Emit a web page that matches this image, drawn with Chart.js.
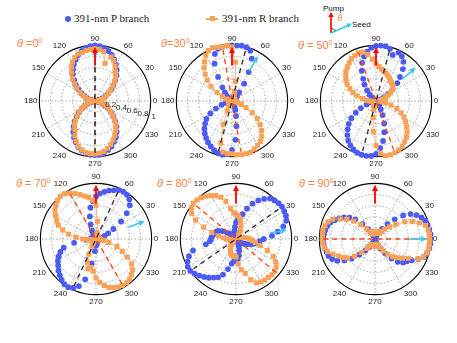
<!DOCTYPE html>
<html>
<head>
<meta charset="utf-8">
<script src="https://cdn.jsdelivr.net/npm/chart.js@4.4.1/dist/chart.umd.min.js"></script>
<style>
  html, body { margin: 0; padding: 0; background: #fff; }
  body { width: 457px; height: 343px; position: relative; overflow: hidden; font-family: "Liberation Sans", Arial, sans-serif; }
  .panel { position: absolute; width: 142px; height: 142px; }
  .title { position: absolute; color: #f5834a; font-size: 11px; line-height: 11px; white-space: nowrap; }
  .title sup { font-size: 7px; vertical-align: 4px; line-height: 0; }
  .lg { position: absolute; top: 13px; font-family: "Liberation Serif", "Times New Roman", serif; font-size: 11px; line-height: 11px; color: #222; white-space: nowrap; }
  .dot { position: absolute; width: 6px; height: 6px; border-radius: 50%; background: #4b5bf5; }
  .sq { position: absolute; width: 5px; height: 5px; background: #f9a257; }
  .ln { position: absolute; height: 1.5px; background: #f9a257; }
</style>
</head>
<body>

<!-- legend -->
<div class="dot" style="left:65px; top:16px;"></div>
<div class="lg" style="left:74px;">391-nm P branch</div>
<div class="ln" style="left:206px; top:18px; width:12px;"></div>
<div class="sq" style="left:209.5px; top:16px;"></div>
<div class="lg" style="left:222px;">391-nm R branch</div>

<!-- pump / seed inset -->
<svg style="position:absolute; left:300px; top:0;" width="90" height="40" viewBox="0 0 90 40">
  <text x="23" y="11" font-size="8" font-family="Liberation Sans, Arial, sans-serif" fill="#111">Pump</text>
  <line x1="31" y1="33" x2="31" y2="16" stroke="#ff0000" stroke-width="1.6"/>
  <polygon points="31,12 28.3,17 33.7,17" fill="#ff0000"/>
  <text x="37.5" y="21" font-size="10" font-style="italic" font-family="Liberation Serif, serif" fill="#f5834a">θ</text>
  <line x1="31" y1="33" x2="48" y2="25.5" stroke="#3cc8f0" stroke-width="1.6"/>
  <polygon points="52,23.8 46.2,23.2 48.3,28" fill="#3cc8f0"/>
  <path d="M31 28.5 A4.5 4.5 0 0 1 35.3 31" fill="none" stroke="#111" stroke-width="0.8"/>
  <text x="52" y="27" font-size="8" font-family="Liberation Sans, Arial, sans-serif" fill="#111">Seed</text>
</svg>

<!-- panel titles -->
<div class="title" style="left:17px; top:38px;"><i>θ</i> =0<sup>0</sup></div>
<div class="title" style="left:161px; top:38px;"><i>θ</i>=30<sup>0</sup></div>
<div class="title" style="left:298px; top:40px;"><i>θ</i> = 50<sup>0</sup></div>
<div class="title" style="left:16px; top:178px;"><i>θ</i> = 70<sup>0</sup></div>
<div class="title" style="left:157px; top:178px;"><i>θ</i> = 80<sup>0</sup></div>
<div class="title" style="left:299px; top:178px;"><i>θ</i> = 90<sup>0</sup></div>

<div class="panel" style="left:20px; top:30px;"><canvas id="c0"></canvas></div>
<div class="panel" style="left:157px; top:30px;"><canvas id="c1"></canvas></div>
<div class="panel" style="left:301px; top:30px;"><canvas id="c2"></canvas></div>
<div class="panel" style="left:21px; top:168px;"><canvas id="c3"></canvas></div>
<div class="panel" style="left:161px; top:168px;"><canvas id="c4"></canvas></div>
<div class="panel" style="left:300px; top:168px;"><canvas id="c5"></canvas></div>

<script>
// polar angle of each sample, degrees (counter-clockwise from the right)
const angles = [
  0, 5, 10, 15, 20, 25, 30, 35, 40, 45, 50, 55,
  60, 65, 70, 75, 80, 85, 90, 95, 100, 105, 110, 115,
  120, 125, 130, 135, 140, 145, 150, 155, 160, 165, 170, 175,
  180, 185, 190, 195, 200, 205, 210, 215, 220, 225, 230, 235,
  240, 245, 250, 255, 260, 265, 270, 275, 280, 285, 290, 295,
  300, 305, 310, 315, 320, 325, 330, 335, 340, 345, 350, 355
];
const angleTicks = [0, 30, 60, 90, 120, 150, 180, 210, 240, 270, 300, 330];
const radialTicks = [0.2, 0.4, 0.6, 0.8, 1];

// seed angle theta for each panel
const thetas = [0, 30, 50, 70, 80, 90];
const seedDirs = [90, 60, 40, 20, 10, 0];     // seed arrow direction
const rAxisDirs = [90, 100, 110, 120, 140, 180]; // red dashed line
const pAxisDirs = [90, 75, 75, 65, 35, null];    // black dashed line

// normalised intensity, 391-nm P branch (blue circles)
const pTheta0 = [
  0.02, 0.03, 0.05, 0.09, 0.14, 0.20, 0.27, 0.35, 0.43, 0.51, 0.60, 0.68,
  0.75, 0.82, 0.88, 0.93, 0.97, 0.99, 1.00, 0.99, 0.97, 0.93, 0.88, 0.82,
  0.76, 0.69, 0.62, 0.53, 0.45, 0.36, 0.28, 0.21, 0.15, 0.09, 0.05, 0.03,
  0.02, 0.03, 0.05, 0.09, 0.14, 0.20, 0.27, 0.35, 0.43, 0.52, 0.60, 0.68,
  0.75, 0.82, 0.88, 0.92, 0.95, 0.97, 0.97, 0.97, 0.94, 0.91, 0.87, 0.81,
  0.75, 0.68, 0.60, 0.51, 0.43, 0.35, 0.27, 0.20, 0.14, 0.09, 0.05, 0.03
];
const pTheta30 = [
  0.04, 0.03, 0.04, 0.05, 0.05, 0.06, 0.07, 0.08, 0.10, 0.13, 0.20, 0.38,
  0.60, 0.84, 0.96, 1.00, 1.01, 1.00, 1.00, 1.00, 0.99, 0.97, 0.90, 0.74,
  0.50, 0.30, 0.20, 0.14, 0.10, 0.08, 0.06, 0.05, 0.05, 0.04, 0.04, 0.05,
  0.05, 0.06, 0.08, 0.12, 0.20, 0.32, 0.45, 0.56, 0.63, 0.70, 0.76, 0.81,
  0.86, 0.90, 0.94, 0.97, 0.98, 0.96, 0.88, 0.70, 0.46, 0.28, 0.17, 0.11,
  0.08, 0.06, 0.05, 0.05, 0.04, 0.04, 0.04, 0.04, 0.04, 0.04, 0.04, 0.04
];
const pTheta50 = [
  0.04, 0.04, 0.05, 0.06, 0.10, 0.16, 0.25, 0.36, 0.50, 0.61, 0.75, 0.86,
  0.93, 0.96, 0.88, 0.97, 1.00, 1.00, 0.99, 0.96, 0.90, 0.83, 0.73, 0.60,
  0.46, 0.36, 0.25, 0.16, 0.10, 0.07, 0.05, 0.05, 0.04, 0.04, 0.04, 0.04,
  0.04, 0.05, 0.06, 0.10, 0.18, 0.30, 0.42, 0.54, 0.64, 0.72, 0.80, 0.87,
  0.92, 0.96, 0.99, 1.00, 1.00, 0.99, 0.95, 0.85, 0.73, 0.58, 0.43, 0.28,
  0.17, 0.10, 0.07, 0.05, 0.05, 0.04, 0.04, 0.04, 0.04, 0.04, 0.04, 0.04
];
const pTheta70 = [
  0.04, 0.05, 0.06, 0.10, 0.16, 0.24, 0.36, 0.55, 0.72, 0.86, 0.93, 0.97,
  0.98, 0.97, 0.93, 0.90, 0.86, 0.82, 0.76, 0.68, 0.57, 0.42, 0.28, 0.17,
  0.10, 0.07, 0.05, 0.05, 0.04, 0.04, 0.04, 0.04, 0.05, 0.05, 0.06, 0.08,
  0.10, 0.18, 0.40, 0.60, 0.68, 0.74, 0.79, 0.83, 0.88, 0.92, 0.96, 0.99,
  1.00, 0.97, 0.90, 0.75, 0.45, 0.22, 0.12, 0.08, 0.06, 0.05, 0.04, 0.04,
  0.04, 0.04, 0.04, 0.04, 0.04, 0.04, 0.04, 0.04, 0.04, 0.04, 0.04, 0.04
];
const pTheta80 = [
  0.50, 0.65, 0.76, 0.88, 0.96, 0.99, 1.00, 1.01, 1.00, 0.98, 0.95, 0.88,
  0.80, 0.70, 0.58, 0.46, 0.38, 0.35, 0.30, 0.22, 0.15, 0.10, 0.08, 0.07,
  0.07, 0.08, 0.10, 0.12, 0.15, 0.20, 0.28, 0.34, 0.38, 0.40, 0.42, 0.44,
  0.45, 0.47, 0.55, 0.80, 0.90, 0.96, 1.00, 1.00, 0.97, 0.93, 0.89, 0.85,
  0.80, 0.76, 0.68, 0.56, 0.45, 0.40, 0.37, 0.36, 0.30, 0.22, 0.15, 0.10,
  0.08, 0.07, 0.07, 0.08, 0.10, 0.13, 0.17, 0.22, 0.28, 0.33, 0.38, 0.43
];
const pTheta90 = [
  1.00, 1.00, 0.99, 0.98, 0.96, 0.92, 0.86, 0.78, 0.66, 0.50, 0.35, 0.22,
  0.14, 0.09, 0.06, 0.05, 0.04, 0.04, 0.04, 0.04, 0.04, 0.05, 0.06, 0.09,
  0.14, 0.22, 0.35, 0.50, 0.60, 0.68, 0.74, 0.80, 0.86, 0.89, 0.91, 0.92,
  0.93, 0.93, 0.92, 0.90, 0.89, 0.85, 0.78, 0.67, 0.55, 0.40, 0.27, 0.17,
  0.10, 0.07, 0.05, 0.04, 0.04, 0.04, 0.04, 0.04, 0.05, 0.06, 0.08, 0.12,
  0.20, 0.32, 0.46, 0.58, 0.66, 0.70, 0.76, 0.86, 0.94, 0.97, 0.99, 1.00
];

// normalised intensity, 391-nm R branch (orange squares)
const rTheta0 = [
  0.03, 0.05, 0.08, 0.12, 0.17, 0.22, 0.28, 0.34, 0.42, 0.50, 0.58, 0.64,
  0.72, 0.80, 0.84, 0.70, 0.90, 0.93, 0.94, 0.93, 0.92, 0.90, 0.90, 0.86,
  0.81, 0.74, 0.66, 0.57, 0.48, 0.40, 0.31, 0.24, 0.18, 0.12, 0.08, 0.05,
  0.03, 0.05, 0.08, 0.12, 0.17, 0.22, 0.28, 0.34, 0.42, 0.50, 0.57, 0.63,
  0.72, 0.80, 0.87, 0.91, 0.94, 0.95, 0.95, 0.94, 0.92, 0.88, 0.83, 0.77,
  0.71, 0.65, 0.58, 0.50, 0.42, 0.35, 0.28, 0.22, 0.16, 0.11, 0.07, 0.04
];
const rTheta30 = [
  0.05, 0.04, 0.04, 0.04, 0.04, 0.05, 0.05, 0.05, 0.05, 0.06, 0.06, 0.07,
  0.08, 0.09, 0.11, 0.18, 0.36, 0.70, 0.97, 1.00, 0.99, 1.00, 1.02, 1.00,
  0.94, 0.86, 0.78, 0.68, 0.58, 0.46, 0.31, 0.19, 0.11, 0.07, 0.05, 0.05,
  0.04, 0.04, 0.04, 0.05, 0.05, 0.05, 0.05, 0.06, 0.06, 0.07, 0.07, 0.08,
  0.11, 0.20, 0.45, 0.78, 0.93, 0.95, 0.95, 0.97, 0.98, 0.98, 0.98, 0.95,
  0.92, 0.89, 0.83, 0.75, 0.66, 0.55, 0.42, 0.28, 0.18, 0.11, 0.07, 0.06
];
const rTheta50 = [
  0.08, 0.07, 0.08, 0.12, 0.18, 0.24, 0.30, 0.36, 0.40, 0.42, 0.43, 0.45,
  0.48, 0.50, 0.53, 0.55, 0.58, 0.62, 0.67, 0.75, 0.85, 0.91, 0.92, 0.90,
  0.88, 0.84, 0.80, 0.76, 0.71, 0.66, 0.60, 0.52, 0.44, 0.35, 0.25, 0.17,
  0.12, 0.08, 0.06, 0.05, 0.05, 0.05, 0.05, 0.05, 0.06, 0.06, 0.07, 0.07,
  0.08, 0.09, 0.11, 0.16, 0.30, 0.55, 0.80, 0.95, 1.00, 1.00, 0.99, 0.97,
  0.94, 0.90, 0.85, 0.79, 0.72, 0.65, 0.58, 0.50, 0.40, 0.28, 0.18, 0.12
];
const rTheta70 = [
  0.06, 0.05, 0.05, 0.04, 0.04, 0.04, 0.04, 0.04, 0.04, 0.05, 0.05, 0.05,
  0.06, 0.06, 0.07, 0.08, 0.12, 0.32, 0.60, 0.70, 0.76, 0.80, 0.85, 0.90,
  0.95, 0.99, 1.00, 0.98, 0.94, 0.90, 0.84, 0.78, 0.72, 0.62, 0.50, 0.36,
  0.24, 0.15, 0.10, 0.07, 0.06, 0.05, 0.05, 0.05, 0.06, 0.07, 0.08, 0.10,
  0.15, 0.30, 0.45, 0.55, 0.52, 0.58, 0.70, 0.78, 0.85, 0.90, 0.93, 0.95,
  0.96, 0.96, 0.94, 0.90, 0.86, 0.78, 0.65, 0.52, 0.40, 0.24, 0.14, 0.08
];
const rTheta80 = [
  0.25, 0.20, 0.15, 0.10, 0.08, 0.07, 0.06, 0.06, 0.06, 0.07, 0.08, 0.10,
  0.13, 0.18, 0.25, 0.32, 0.38, 0.42, 0.45, 0.47, 0.55, 0.70, 0.80, 0.86,
  0.90, 0.94, 0.97, 0.99, 1.00, 0.97, 0.92, 0.80, 0.62, 0.45, 0.32, 0.22,
  0.17, 0.12, 0.09, 0.07, 0.06, 0.06, 0.06, 0.07, 0.08, 0.10, 0.13, 0.17,
  0.20, 0.24, 0.27, 0.30, 0.31, 0.30, 0.32, 0.45, 0.56, 0.64, 0.78, 0.87,
  0.89, 0.90, 0.90, 0.91, 0.91, 0.88, 0.82, 0.74, 0.60, 0.45, 0.35, 0.30
];
const rTheta90 = [
  0.98, 0.98, 0.97, 0.94, 0.85, 0.74, 0.62, 0.46, 0.34, 0.25, 0.18, 0.14,
  0.12, 0.11, 0.11, 0.12, 0.12, 0.13, 0.13, 0.13, 0.12, 0.11, 0.10, 0.10,
  0.12, 0.16, 0.24, 0.36, 0.50, 0.62, 0.72, 0.84, 0.90, 0.93, 0.95, 0.95,
  0.95, 0.94, 0.92, 0.88, 0.80, 0.72, 0.66, 0.60, 0.48, 0.34, 0.22, 0.15,
  0.12, 0.11, 0.11, 0.12, 0.12, 0.13, 0.13, 0.12, 0.11, 0.10, 0.10, 0.12,
  0.18, 0.26, 0.36, 0.45, 0.52, 0.60, 0.69, 0.86, 0.93, 0.97, 0.98, 0.98
];

const pSeries = [pTheta0, pTheta30, pTheta50, pTheta70, pTheta80, pTheta90];
const rSeries = [rTheta0, rTheta30, rTheta50, rTheta70, rTheta80, rTheta90];

const BLUE = '#4b5bf5';
const ORANGE = '#f9a257';
const GRID = '#8c8c8c';

/* radar index 0 sits at the top (90 deg) and runs clockwise */
const N = angles.length;
const step = 360 / N;
const idxOf = a => ((Math.round((90 - a) / step) % N) + N) % N;
const radarOrder = angles.map((_, i) => angles.indexOf(((90 - i * step) % 360 + 360) % 360));
const toRadar = arr => radarOrder.map(j => arr[j]);
const radarLabels = toRadar(angles);

/* ---------- overlays: dashed axes, pump / seed arrows, radial ticks ---------- */
function arrow(ctx, p1, p2, color, width, head) {
  const ang = Math.atan2(p2.y - p1.y, p2.x - p1.x);
  const bx = p2.x - Math.cos(ang) * head, by = p2.y - Math.sin(ang) * head;
  ctx.save();
  ctx.strokeStyle = color;
  ctx.fillStyle = color;
  ctx.lineWidth = width;
  ctx.beginPath();
  ctx.moveTo(p1.x, p1.y);
  ctx.lineTo(bx, by);
  ctx.stroke();
  ctx.beginPath();
  ctx.moveTo(p2.x, p2.y);
  ctx.lineTo(bx + Math.sin(ang) * head * 0.5, by - Math.cos(ang) * head * 0.5);
  ctx.lineTo(bx - Math.sin(ang) * head * 0.5, by + Math.cos(ang) * head * 0.5);
  ctx.closePath();
  ctx.fill();
  ctx.restore();
}

function dashed(ctx, p1, p2, color) {
  ctx.save();
  ctx.strokeStyle = color;
  ctx.lineWidth = 1.4;
  ctx.setLineDash([5, 4]);
  ctx.beginPath();
  ctx.moveTo(p1.x, p1.y);
  ctx.lineTo(p2.x, p2.y);
  ctx.stroke();
  ctx.restore();
}

const overlayPlugin = {
  id: 'overlay',
  afterDatasetsDraw(chart, args, opts) {
    const s = chart.scales.r;
    const ctx = chart.ctx;
    const k = opts.panel;
    const at = (a, v) => s.getPointPositionForValue(idxOf(a), v);

    const ra = rAxisDirs[k];
    dashed(ctx, at(ra, 0.93), at(ra + 180, 0.93), '#ff4a14');
    const pa = pAxisDirs[k];
    if (pa !== null) dashed(ctx, at(pa, 0.93), at(pa + 180, 0.93), '#333');

    arrow(ctx, at(seedDirs[k], 0.62), at(seedDirs[k], 0.93), '#3cc8f0', 1.6, 6);
    arrow(ctx, at(90, 0.64), at(90, 0.97), '#ff0000', 1.8, 6);

    if (opts.ticks) {
      ctx.save();
      ctx.font = '8px "Liberation Sans", Arial, sans-serif';
      ctx.fillStyle = '#222';
      ctx.textAlign = 'center';
      ctx.textBaseline = 'middle';
      radialTicks.forEach(v => {
        const p = at(345, v);
        ctx.fillText(String(v), p.x + 5, p.y + 1);
      });
      ctx.restore();
    }
  }
};

function makePanel(k) {
  new Chart(document.getElementById('c' + k), {
    type: 'radar',
    data: {
      labels: radarLabels,
      datasets: [
        {
          label: '391-nm P branch',
          data: toRadar(pSeries[k]),
          order: 2,
          showLine: false,
          fill: false,
          pointStyle: 'circle',
          pointRadius: 2.9,
          pointBorderWidth: 0,
          pointBackgroundColor: BLUE,
          borderColor: BLUE
        },
        {
          label: '391-nm R branch',
          data: toRadar(rSeries[k]),
          order: 1,
          fill: false,
          borderColor: ORANGE,
          borderWidth: 0.8,
          pointStyle: 'rect',
          pointRadius: 3.6,
          pointBorderWidth: 0,
          pointBackgroundColor: ORANGE
        }
      ]
    },
    options: {
      responsive: true,
      maintainAspectRatio: false,
      animation: false,
      events: [],
      plugins: {
        legend: { display: false },
        tooltip: { enabled: false },
        overlay: { panel: k, ticks: k === 0 }
      },
      scales: {
        r: {
          min: 0,
          max: 1,
          startAngle: 0,
          ticks: { display: false, stepSize: 0.2 },
          grid: {
            circular: true,
            color: c => (c.tick && c.tick.value >= 1 ? '#000' : GRID),
            lineWidth: c => (c.tick && c.tick.value >= 1 ? 1.1 : 0.8)
          },
          border: { dash: c => (c.tick && c.tick.value >= 1 ? [] : [1.5, 2]) },
          angleLines: {
            color: GRID,
            lineWidth: c => (angleTicks.includes(radarLabels[c.index]) ? 0.8 : 0),
            borderDash: [1.5, 2]
          },
          pointLabels: {
            display: true,
            padding: 2,
            color: '#222',
            font: { size: 8, family: '"Liberation Sans", Arial, sans-serif' },
            callback: lbl => (angleTicks.includes(lbl) ? String(lbl) : '')
          }
        }
      }
    },
    plugins: [overlayPlugin]
  });
}

thetas.forEach((t, k) => makePanel(k));
</script>
</body>
</html>
